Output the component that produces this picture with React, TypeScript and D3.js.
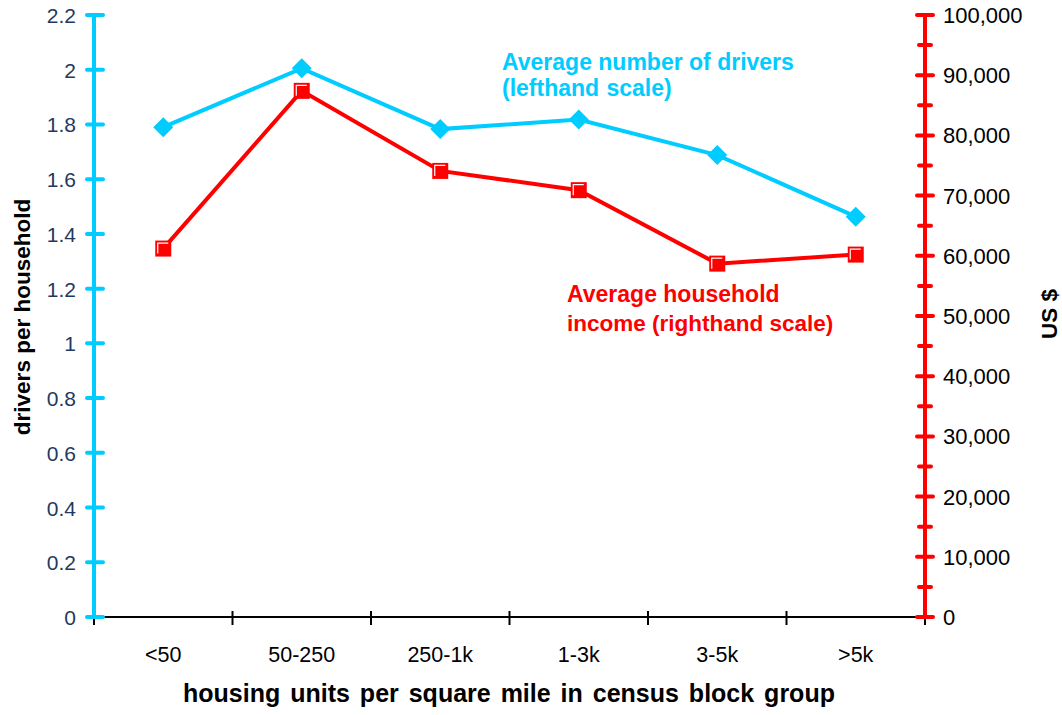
import React from "react";
import * as d3 from "d3";

const categories = ["<50", "50-250", "250-1k", "1-3k", "3-5k", ">5k"];
const drivers = [1.79, 2.005, 1.783, 1.818, 1.688, 1.463];
const income = [61200, 87400, 74100, 70900, 58700, 60200];
const leftTicks = [0, 0.2, 0.4, 0.6, 0.8, 1, 1.2, 1.4, 1.6, 1.8, 2, 2.2];
const rightTicks = [0, 10000, 20000, 30000, 40000, 50000, 60000, 70000, 80000, 90000, 100000];
const rightMinorTicks = [5000, 15000, 25000, 35000, 45000, 55000, 65000, 75000, 85000, 95000];

const W = 1062, H = 715;
const x0 = 94, x1 = 925, yTop = 15, yBot = 617;
const CYAN = "#00CCFF", RED = "#FF0000", NAVY = "#1F3A60";
const FONT = "Liberation Sans, Arial, sans-serif";

export default function App() {
  const x = d3.scaleBand<string>().domain(categories).range([x0, x1]);
  const yL = d3.scaleLinear().domain([0, 2.2]).range([yBot, yTop]);
  const yR = d3.scaleLinear().domain([0, 100000]).range([yBot, yTop]);
  const cx = (c: string) => (x(c) ?? 0) + x.bandwidth() / 2;
  const lineL = d3.line<number>().x((_, i) => cx(categories[i])).y((d) => yL(d));
  const lineR = d3.line<number>().x((_, i) => cx(categories[i])).y((d) => yR(d));
  const fmt = d3.format(",");
  const boundaries = [...categories.map((c) => x(c) ?? 0), x1];

  return (
    <svg width={W} height={H} style={{ position: "absolute", left: 0, top: 0, background: "#fff" }} fontFamily={FONT}>
      {/* x axis */}
      <line x1={x0} x2={x1} y1={yBot} y2={yBot} stroke="#000" strokeWidth={2} />
      {boundaries.map((b, i) => (
        <line key={i} x1={b} x2={b} y1={yBot - 6} y2={yBot + 8} stroke="#000" strokeWidth={2} />
      ))}
      {categories.map((c) => (
        <text key={c} x={cx(c)} y={662} textAnchor="middle" fontSize={21.5} fill="#000">{c}</text>
      ))}
      <text x={509} y={702} textAnchor="middle" fontSize={25} fontWeight="bold" wordSpacing={3} fill="#000">
        housing units per square mile in census block group
      </text>

      {/* left axis */}
      <line x1={x0} x2={x0} y1={yTop} y2={yBot} stroke={CYAN} strokeWidth={4} />
      {leftTicks.map((t) => (
        <g key={t}>
          <line x1={x0 - 7} x2={x0 + 9} y1={yL(t)} y2={yL(t)} stroke={CYAN} strokeWidth={4} strokeLinecap="round" />
          <text x={76} y={yL(t) + 8} textAnchor="end" fontSize={21} fill={NAVY}>{t}</text>
        </g>
      ))}
      <text transform={`translate(30,317) rotate(-90)`} textAnchor="middle" fontSize={22.5} fontWeight="bold" fill="#000">
        drivers per household
      </text>

      {/* right axis */}
      <line x1={x1} x2={x1} y1={yTop} y2={yBot} stroke={RED} strokeWidth={4} />
      {rightTicks.map((t) => (
        <g key={t}>
          <line x1={x1 - 8} x2={x1 + 8} y1={yR(t)} y2={yR(t)} stroke={RED} strokeWidth={4} strokeLinecap="round" />
          <text x={943} y={yR(t) + 8} textAnchor="start" fontSize={22} fill="#000">{fmt(t)}</text>
        </g>
      ))}
      {rightMinorTicks.map((t) => (
        <line key={t} x1={x1 - 6} x2={x1 + 6} y1={yR(t)} y2={yR(t)} stroke={RED} strokeWidth={4} strokeLinecap="round" />
      ))}
      <text transform={`translate(1057,314) rotate(-90)`} textAnchor="middle" fontSize={22.5} fontWeight="bold" fill="#000">
        US $
      </text>

      {/* series */}
      <path d={lineR(income) ?? ""} fill="none" stroke={RED} strokeWidth={4} />
      <path d={lineL(drivers) ?? ""} fill="none" stroke={CYAN} strokeWidth={4} />
      {drivers.map((d, i) => {
        const px = cx(categories[i]), py = yL(d);
        const r = 10;
        return (
          <path key={"d" + i} d={`M${px},${py - r}L${px + r},${py}L${px},${py + r}L${px - r},${py}Z`} fill={CYAN} />
        );
      })}
      {income.map((d, i) => {
        const px = cx(categories[i]), py = yR(d);
        const s = 8;
        return (
          <g key={"r" + i}>
            <rect x={px - s} y={py - s} width={2 * s} height={2 * s} fill={RED} />
            <path d={`M${px - s + 2.5},${py + s - 3}V${py - s + 2.5}H${px + s - 3}`} fill="none" stroke="#fff" strokeWidth={1.2} />
          </g>
        );
      })}

      {/* annotations */}
      <text x={502} y={70} fontSize={23} fontWeight="bold" fill={CYAN}>Average number of drivers</text>
      <text x={502} y={96} fontSize={23} fontWeight="bold" wordSpacing={1} fill={CYAN}>(lefthand scale)</text>
      <text x={567} y={302} fontSize={23} fontWeight="bold" fill={RED}>Average household</text>
      <text x={567} y={331} fontSize={22.5} fontWeight="bold" fill={RED}>income (righthand scale)</text>
    </svg>
  );
}
